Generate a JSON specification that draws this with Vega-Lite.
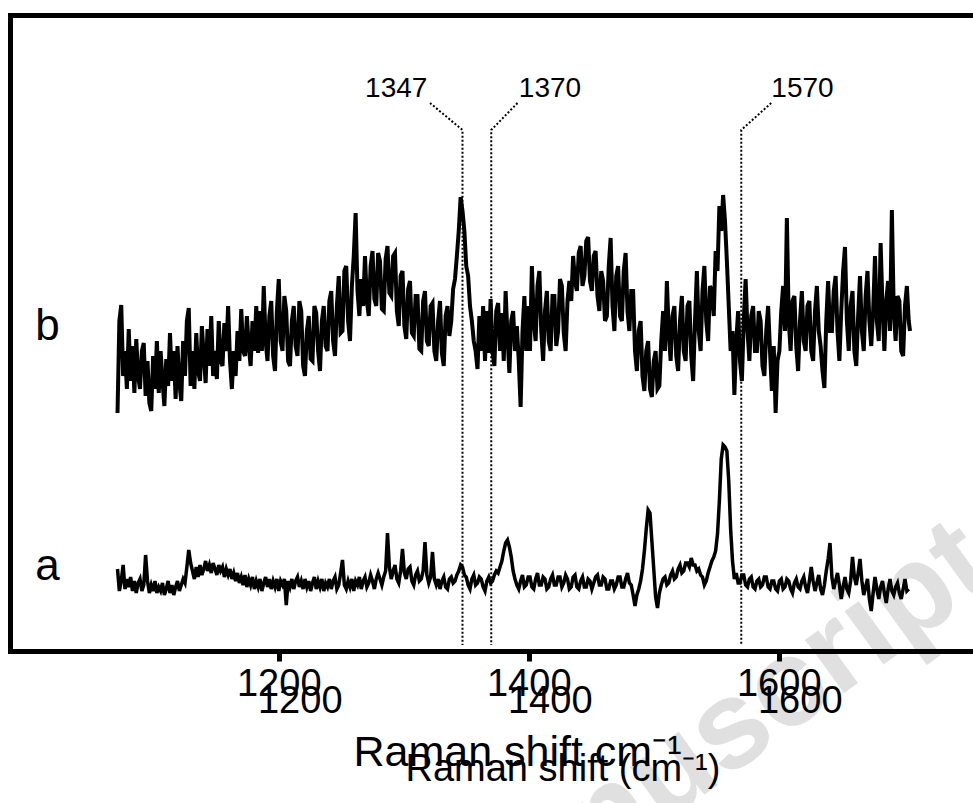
{
"$schema": "https://vega.github.io/schema/vega-lite/v6.json",
"width": 963, "height": 636,
"autosize": {"type": "none"},
"padding": {"left": 10, "top": 15, "right": 0, "bottom": 152},
"background": "white",
"config": {"view": {"stroke": null}, "font": "Liberation Sans", "axis": {"grid": false, "zindex": 1}},
"datasets": {
"b": [
{"x":1071,"y":238},{"x":1072.5,"y":330},{"x":1074,"y":346},{"x":1075.5,"y":275},{"x":1077,"y":300},{"x":1078.5,"y":262},{"x":1080,"y":322},{"x":1081.5,"y":270},{"x":1083,"y":305},{"x":1084.5,"y":258},{"x":1086,"y":312},{"x":1087.5,"y":275},{"x":1089,"y":262},{"x":1090.5,"y":300},{"x":1092,"y":308},{"x":1093.5,"y":255},{"x":1095,"y":290},{"x":1096.5,"y":248},{"x":1098,"y":240},{"x":1099.5,"y":295},{"x":1101,"y":262},{"x":1102.5,"y":310},{"x":1104,"y":258},{"x":1105.5,"y":300},{"x":1107,"y":270},{"x":1108.5,"y":245},{"x":1110,"y":292},{"x":1111.5,"y":265},{"x":1113,"y":318},{"x":1114.5,"y":270},{"x":1116,"y":300},{"x":1117.5,"y":252},{"x":1119,"y":305},{"x":1120.5,"y":268},{"x":1122,"y":250},{"x":1123.5,"y":310},{"x":1125,"y":275},{"x":1126.5,"y":330},{"x":1128,"y":343},{"x":1129.5,"y":265},
{"x":1131,"y":300},{"x":1132.5,"y":262},{"x":1134,"y":318},{"x":1135.5,"y":280},{"x":1137,"y":270},{"x":1138.5,"y":325},{"x":1140,"y":295},{"x":1141.5,"y":268},{"x":1143,"y":322},{"x":1144.5,"y":285},{"x":1146,"y":335},{"x":1147.5,"y":275},{"x":1149,"y":300},{"x":1150.5,"y":272},{"x":1152,"y":330},{"x":1153.5,"y":290},{"x":1155,"y":285},{"x":1156.5,"y":328},{"x":1158,"y":300},{"x":1159.5,"y":345},{"x":1161,"y":290},{"x":1162.5,"y":262},{"x":1164,"y":300},{"x":1165.5,"y":275},{"x":1167,"y":320},{"x":1168.5,"y":290},{"x":1170,"y":342},{"x":1171.5,"y":300},{"x":1173,"y":295},{"x":1174.5,"y":335},{"x":1176,"y":305},{"x":1177.5,"y":285},{"x":1179,"y":330},{"x":1180.5,"y":300},{"x":1182,"y":345},{"x":1183.5,"y":298},
{"x":1185,"y":340},{"x":1186.5,"y":300},{"x":1188,"y":365},{"x":1189.5,"y":310},{"x":1191,"y":290},{"x":1192.5,"y":335},{"x":1194,"y":350},{"x":1195.5,"y":295},{"x":1197,"y":280},{"x":1198.5,"y":340},{"x":1200,"y":372},{"x":1201.5,"y":310},{"x":1203,"y":300},{"x":1204.5,"y":355},{"x":1206,"y":340},{"x":1207.5,"y":290},{"x":1209,"y":285},{"x":1210.5,"y":330},{"x":1212,"y":345},{"x":1213.5,"y":305},{"x":1215,"y":295},{"x":1216.5,"y":350},{"x":1218,"y":340},{"x":1219.5,"y":285},{"x":1221,"y":275},{"x":1222.5,"y":320},{"x":1224,"y":335},{"x":1225.5,"y":292},{"x":1227,"y":290},{"x":1228.5,"y":345},{"x":1230,"y":338},{"x":1231.5,"y":300},{"x":1233,"y":280},{"x":1234.5,"y":330},{"x":1236,"y":345},{"x":1237.5,"y":305},
{"x":1239,"y":300},{"x":1240.5,"y":350},{"x":1242,"y":360},{"x":1243.5,"y":310},{"x":1245,"y":295},{"x":1246.5,"y":345},{"x":1248,"y":375},{"x":1249.5,"y":318},{"x":1251,"y":320},{"x":1252.5,"y":380},{"x":1254,"y":385},{"x":1255.5,"y":330},{"x":1257,"y":310},{"x":1258.5,"y":365},{"x":1260,"y":395},{"x":1261.5,"y":438},{"x":1263,"y":360},{"x":1264.5,"y":335},
{"x":1266,"y":372},{"x":1267.5,"y":345},{"x":1269,"y":395},{"x":1270.5,"y":350},{"x":1272,"y":335},{"x":1273.5,"y":385},{"x":1275,"y":400},{"x":1276.5,"y":352},{"x":1278,"y":345},{"x":1279.5,"y":398},{"x":1281,"y":390},{"x":1282.5,"y":342},{"x":1284,"y":340},{"x":1285.5,"y":392},{"x":1287,"y":405},{"x":1288.5,"y":358},{"x":1290,"y":355},{"x":1291.5,"y":395},{"x":1293,"y":398},{"x":1294.5,"y":340},
{"x":1296,"y":325},{"x":1297.5,"y":375},{"x":1299,"y":380},{"x":1300.5,"y":325},{"x":1302,"y":312},{"x":1303.5,"y":362},{"x":1305,"y":370},{"x":1306.5,"y":318},{"x":1308,"y":315},{"x":1309.5,"y":355},{"x":1311,"y":355},{"x":1312.5,"y":302},{"x":1314,"y":300},{"x":1315.5,"y":350},{"x":1317,"y":360},{"x":1318.5,"y":310},{"x":1320,"y":305},{"x":1321.5,"y":345},{"x":1323,"y":348},{"x":1324.5,"y":300},{"x":1326,"y":290},{"x":1327.5,"y":330},{"x":1329,"y":350},{"x":1330.5,"y":298},{"x":1332,"y":285},{"x":1333.5,"y":335},{"x":1335,"y":345},{"x":1336.5,"y":315},
{"x":1338,"y":330},{"x":1339.5,"y":362},{"x":1341,"y":372},{"x":1342.5,"y":395},{"x":1344,"y":420},{"x":1345.5,"y":454},{"x":1347,"y":440},{"x":1348.5,"y":420},{"x":1350,"y":385},{"x":1351.5,"y":375},{"x":1353,"y":345},{"x":1354.5,"y":330},{"x":1356,"y":310},{"x":1357.5,"y":300},{"x":1359,"y":282},
{"x":1360.5,"y":335},{"x":1362,"y":300},{"x":1363.5,"y":345},{"x":1365,"y":290},{"x":1366.5,"y":340},{"x":1368,"y":298},{"x":1369.5,"y":352},{"x":1371,"y":300},{"x":1372.5,"y":285},{"x":1374,"y":340},{"x":1375.5,"y":348},{"x":1377,"y":300},{"x":1378.5,"y":338},{"x":1380,"y":290},{"x":1381.5,"y":360},{"x":1383,"y":315},{"x":1384.5,"y":278},{"x":1386,"y":330},{"x":1387.5,"y":340},{"x":1389,"y":300},{"x":1390.5,"y":325},{"x":1392,"y":290},
{"x":1393.5,"y":244},{"x":1395,"y":320},{"x":1396.5,"y":355},{"x":1398,"y":300},{"x":1399.5,"y":345},{"x":1401,"y":300},{"x":1402.5,"y":385},{"x":1404,"y":330},{"x":1405.5,"y":310},{"x":1407,"y":365},{"x":1408.5,"y":380},{"x":1410,"y":320},{"x":1411.5,"y":290},{"x":1413,"y":340},{"x":1414.5,"y":360},{"x":1416,"y":310},{"x":1417.5,"y":300},{"x":1419,"y":355},{"x":1420.5,"y":355},{"x":1422,"y":305},{"x":1423.5,"y":320},{"x":1425,"y":372},{"x":1426.5,"y":365},{"x":1428,"y":318},{"x":1429.5,"y":300},{"x":1431,"y":350},
{"x":1432.5,"y":370},{"x":1434,"y":350},{"x":1435.5,"y":395},{"x":1437,"y":370},{"x":1438.5,"y":360},{"x":1440,"y":398},{"x":1441.5,"y":405},{"x":1443,"y":365},{"x":1444.5,"y":375},{"x":1446,"y":410},{"x":1447.5,"y":414},{"x":1449,"y":370},{"x":1450.5,"y":360},{"x":1452,"y":395},{"x":1453.5,"y":400},{"x":1455,"y":355},{"x":1456.5,"y":340},{"x":1458,"y":380},
{"x":1459.5,"y":370},{"x":1461,"y":330},{"x":1462.5,"y":335},{"x":1464,"y":385},{"x":1465.5,"y":413},{"x":1467,"y":345},{"x":1468.5,"y":320},{"x":1470,"y":375},{"x":1471.5,"y":385},{"x":1473,"y":335},{"x":1474.5,"y":330},{"x":1476,"y":380},{"x":1477.5,"y":398},{"x":1479,"y":340},{"x":1480.5,"y":320},{"x":1482,"y":360},
{"x":1483.5,"y":360},{"x":1485,"y":300},{"x":1486.5,"y":280},{"x":1488,"y":320},{"x":1489.5,"y":330},{"x":1491,"y":275},{"x":1492.5,"y":260},{"x":1494,"y":300},{"x":1495.5,"y":310},{"x":1497,"y":262},{"x":1498.5,"y":254},{"x":1500,"y":290},{"x":1501.5,"y":300},{"x":1503,"y":262},{"x":1504.5,"y":265},{"x":1506,"y":310},{"x":1507.5,"y":340},{"x":1509,"y":300},{"x":1510.5,"y":370},{"x":1512,"y":320},{"x":1513.5,"y":290},{"x":1515,"y":335},
{"x":1516.5,"y":345},{"x":1518,"y":295},{"x":1519.5,"y":280},{"x":1521,"y":330},{"x":1522.5,"y":355},{"x":1524,"y":300},{"x":1525.5,"y":290},{"x":1527,"y":345},{"x":1528.5,"y":350},{"x":1530,"y":295},{"x":1531.5,"y":270},{"x":1533,"y":330},{"x":1534.5,"y":380},{"x":1536,"y":320},{"x":1537.5,"y":300},{"x":1539,"y":360},{"x":1540.5,"y":385},{"x":1542,"y":330},{"x":1543.5,"y":310},{"x":1545,"y":365},{"x":1546.5,"y":360},{"x":1548,"y":335},{"x":1549.5,"y":400},
{"x":1551,"y":380},{"x":1552.5,"y":445},{"x":1554,"y":420},{"x":1555.5,"y":456},{"x":1557,"y":430},{"x":1558.5,"y":390},{"x":1560,"y":345},{"x":1561.5,"y":300},{"x":1563,"y":320},
{"x":1564.5,"y":256},{"x":1566,"y":310},{"x":1567.5,"y":340},{"x":1569,"y":290},{"x":1570.5,"y":270},{"x":1572,"y":330},{"x":1573.5,"y":372},{"x":1575,"y":320},{"x":1576.5,"y":290},{"x":1578,"y":335},{"x":1579.5,"y":345},{"x":1581,"y":300},{"x":1582.5,"y":300},{"x":1584,"y":340},{"x":1585.5,"y":330},{"x":1587,"y":285},{"x":1588.5,"y":275},{"x":1590,"y":320},{"x":1591.5,"y":345},{"x":1593,"y":300},{"x":1594.5,"y":260},{"x":1596,"y":305},{"x":1597.5,"y":238},{"x":1599,"y":290},{"x":1600.5,"y":300},{"x":1602,"y":340},
{"x":1603.5,"y":365},{"x":1605,"y":320},{"x":1606.5,"y":433},{"x":1608,"y":330},{"x":1609.5,"y":300},{"x":1611,"y":350},{"x":1612.5,"y":355},{"x":1614,"y":305},{"x":1615.5,"y":280},{"x":1617,"y":330},{"x":1618.5,"y":360},{"x":1620,"y":310},{"x":1621.5,"y":300},{"x":1623,"y":345},{"x":1624.5,"y":350},{"x":1626,"y":300},{"x":1627.5,"y":290},{"x":1629,"y":340},{"x":1630.5,"y":365},{"x":1632,"y":320},{"x":1633.5,"y":305},{"x":1635,"y":280},{"x":1636.5,"y":263},{"x":1638,"y":330},{"x":1639.5,"y":370},{"x":1641,"y":320},{"x":1642.5,"y":320},{"x":1644,"y":360},{"x":1645.5,"y":375},{"x":1647,"y":320},{"x":1648.5,"y":290},{"x":1650,"y":340},{"x":1651.5,"y":380},{"x":1653,"y":404},{"x":1654.5,"y":330},{"x":1656,"y":300},{"x":1657.5,"y":345},{"x":1659,"y":360},{"x":1660.5,"y":300},{"x":1662,"y":285},{"x":1663.5,"y":335},{"x":1665,"y":375},{"x":1666.5,"y":320},{"x":1668,"y":300},{"x":1669.5,"y":355},{"x":1671,"y":380},{"x":1672.5,"y":330},{"x":1674,"y":305},{"x":1675.5,"y":340},{"x":1677,"y":395},{"x":1678.5,"y":330},{"x":1680,"y":310},{"x":1681.5,"y":408},{"x":1683,"y":345},{"x":1684.5,"y":300},{"x":1686,"y":350},{"x":1687.5,"y":370},{"x":1689,"y":320},{"x":1690.5,"y":441},{"x":1692,"y":340},{"x":1693.5,"y":310},{"x":1695,"y":355},{"x":1696.5,"y":350},{"x":1698,"y":300},{"x":1699.5,"y":295},{"x":1701,"y":345},{"x":1702.5,"y":365},{"x":1704,"y":330},{"x":1705,"y":320}
],
"a": [
{"x":1071,"y":82},{"x":1072.5,"y":60},{"x":1074,"y":70},{"x":1075.5,"y":86},{"x":1077,"y":62},{"x":1078.5,"y":72},{"x":1080,"y":64},{"x":1081.5,"y":74},{"x":1083,"y":60},{"x":1084.5,"y":70},{"x":1086,"y":58},{"x":1087.5,"y":68},{"x":1089,"y":72},{"x":1090.5,"y":60},{"x":1092,"y":66},{"x":1093.5,"y":96},{"x":1095,"y":70},{"x":1096.5,"y":58},{"x":1098,"y":66},{"x":1099.5,"y":60},{"x":1101,"y":70},{"x":1102.5,"y":58},{"x":1104,"y":64},{"x":1105.5,"y":60},{"x":1107,"y":68},{"x":1108.5,"y":56},{"x":1110,"y":62},{"x":1111.5,"y":70},{"x":1113,"y":58},{"x":1114.5,"y":66},{"x":1116,"y":56},{"x":1117.5,"y":64},{"x":1119,"y":70},{"x":1120.5,"y":60},{"x":1122,"y":66},{"x":1123.5,"y":72},{"x":1125,"y":68},{"x":1126.5,"y":84},{"x":1128,"y":101},{"x":1129.5,"y":88},
{"x":1131,"y":80},{"x":1132.5,"y":72},{"x":1134,"y":84},{"x":1135.5,"y":74},{"x":1137,"y":86},{"x":1138.5,"y":76},{"x":1140,"y":82},{"x":1141.5,"y":90},{"x":1143,"y":80},{"x":1144.5,"y":86},{"x":1146,"y":78},{"x":1147.5,"y":88},{"x":1149,"y":82},{"x":1150.5,"y":76},{"x":1152,"y":86},{"x":1153.5,"y":80},{"x":1155,"y":84},{"x":1156.5,"y":74},{"x":1158,"y":82},{"x":1159.5,"y":76},{"x":1161,"y":82},{"x":1162.5,"y":72},{"x":1164,"y":78},{"x":1165.5,"y":70},{"x":1167,"y":78},{"x":1168.5,"y":68},{"x":1170,"y":74},{"x":1171.5,"y":66},{"x":1173,"y":76},{"x":1174.5,"y":64},{"x":1176,"y":72},{"x":1177.5,"y":66},{"x":1179,"y":74},{"x":1180.5,"y":62},{"x":1182,"y":70},{"x":1183.5,"y":64},
{"x":1185,"y":72},{"x":1186.5,"y":60},{"x":1188,"y":68},{"x":1189.5,"y":74},{"x":1191,"y":64},{"x":1192.5,"y":72},{"x":1194,"y":62},{"x":1195.5,"y":70},{"x":1197,"y":64},{"x":1198.5,"y":72},{"x":1200,"y":60},{"x":1201.5,"y":70},{"x":1203,"y":66},{"x":1204.5,"y":72},{"x":1206,"y":46},{"x":1207.5,"y":70},{"x":1209,"y":64},{"x":1210.5,"y":72},{"x":1212,"y":62},{"x":1213.5,"y":70},{"x":1215,"y":74},{"x":1216.5,"y":64},{"x":1218,"y":70},{"x":1219.5,"y":62},{"x":1221,"y":72},{"x":1222.5,"y":64},{"x":1224,"y":70},{"x":1225.5,"y":60},{"x":1227,"y":68},{"x":1228.5,"y":74},{"x":1230,"y":62},{"x":1231.5,"y":70},{"x":1233,"y":64},{"x":1234.5,"y":72},{"x":1236,"y":60},{"x":1237.5,"y":68},
{"x":1239,"y":64},{"x":1240.5,"y":72},{"x":1242,"y":62},{"x":1243.5,"y":70},{"x":1245,"y":74},{"x":1246.5,"y":62},{"x":1248,"y":66},{"x":1249.5,"y":78},{"x":1251,"y":91},{"x":1252.5,"y":66},{"x":1254,"y":62},{"x":1255.5,"y":70},{"x":1257,"y":64},{"x":1258.5,"y":72},{"x":1260,"y":60},{"x":1261.5,"y":70},{"x":1263,"y":66},{"x":1264.5,"y":74},{"x":1266,"y":62},{"x":1267.5,"y":70},{"x":1269,"y":74},{"x":1270.5,"y":64},{"x":1272,"y":68},{"x":1273.5,"y":76},{"x":1275,"y":70},{"x":1276.5,"y":62},{"x":1278,"y":72},{"x":1279.5,"y":78},{"x":1281,"y":72},{"x":1282.5,"y":66},
{"x":1284,"y":74},{"x":1285.5,"y":80},{"x":1287,"y":118},{"x":1288.5,"y":84},{"x":1290,"y":72},{"x":1291.5,"y":80},{"x":1293,"y":86},{"x":1294.5,"y":72},{"x":1296,"y":68},{"x":1297.5,"y":80},{"x":1299,"y":102},{"x":1300.5,"y":78},{"x":1302,"y":72},{"x":1303.5,"y":82},{"x":1305,"y":84},{"x":1306.5,"y":70},{"x":1308,"y":66},{"x":1309.5,"y":76},{"x":1311,"y":80},{"x":1312.5,"y":70},{"x":1314,"y":72},{"x":1315.5,"y":80},{"x":1317,"y":109},{"x":1318.5,"y":76},{"x":1320,"y":68},{"x":1321.5,"y":74},{"x":1323,"y":99},{"x":1324.5,"y":72},
{"x":1326,"y":66},{"x":1327.5,"y":72},{"x":1329,"y":62},{"x":1330.5,"y":70},{"x":1332,"y":74},{"x":1333.5,"y":64},{"x":1335,"y":62},{"x":1336.5,"y":72},{"x":1338,"y":74},{"x":1339.5,"y":68},{"x":1341,"y":70},{"x":1342.5,"y":76},{"x":1344,"y":80},{"x":1345.5,"y":86},{"x":1347,"y":84},{"x":1348.5,"y":76},{"x":1350,"y":74},{"x":1351.5,"y":66},{"x":1353,"y":62},{"x":1354.5,"y":72},{"x":1356,"y":76},{"x":1357.5,"y":66},{"x":1359,"y":68},{"x":1360.5,"y":74},{"x":1362,"y":72},{"x":1363.5,"y":64},{"x":1365,"y":60},{"x":1366.5,"y":70},{"x":1368,"y":74},{"x":1369.5,"y":68},{"x":1371,"y":70},
{"x":1372.5,"y":76},{"x":1374,"y":80},{"x":1375.5,"y":78},{"x":1377,"y":84},{"x":1378.5,"y":90},{"x":1380,"y":100},{"x":1381.5,"y":108},{"x":1383,"y":111},{"x":1384.5,"y":104},{"x":1386,"y":94},{"x":1387.5,"y":80},{"x":1389,"y":72},{"x":1390.5,"y":66},{"x":1392,"y":62},
{"x":1393.5,"y":70},{"x":1395,"y":76},{"x":1396.5,"y":64},{"x":1398,"y":66},{"x":1399.5,"y":74},{"x":1401,"y":74},{"x":1402.5,"y":64},{"x":1404,"y":62},{"x":1405.5,"y":72},{"x":1407,"y":78},{"x":1408.5,"y":66},{"x":1410,"y":66},{"x":1411.5,"y":74},{"x":1413,"y":72},{"x":1414.5,"y":62},{"x":1416,"y":64},{"x":1417.5,"y":72},{"x":1419,"y":76},{"x":1420.5,"y":66},{"x":1422,"y":66},{"x":1423.5,"y":74},{"x":1425,"y":74},{"x":1426.5,"y":64},{"x":1428,"y":68},{"x":1429.5,"y":76},{"x":1431,"y":72},{"x":1432.5,"y":62},{"x":1434,"y":64},{"x":1435.5,"y":74},{"x":1437,"y":76},{"x":1438.5,"y":64},{"x":1440,"y":62},{"x":1441.5,"y":70},{"x":1443,"y":74},{"x":1444.5,"y":64},{"x":1446,"y":64},{"x":1447.5,"y":72},{"x":1449,"y":70},{"x":1450.5,"y":62},{"x":1452,"y":68},{"x":1453.5,"y":74},{"x":1455,"y":76},{"x":1456.5,"y":66},{"x":1458,"y":66},{"x":1459.5,"y":74},{"x":1461,"y":72},{"x":1462.5,"y":62},{"x":1464,"y":62},{"x":1465.5,"y":70},{"x":1467,"y":70},{"x":1468.5,"y":62},{"x":1470,"y":66},{"x":1471.5,"y":74},{"x":1473,"y":74},{"x":1474.5,"y":64},{"x":1476,"y":64},{"x":1477.5,"y":72},{"x":1479,"y":78},{"x":1480.5,"y":68},{"x":1482,"y":66},
{"x":1483.5,"y":56},{"x":1485,"y":45},{"x":1486.5,"y":56},{"x":1488,"y":62},{"x":1489.5,"y":70},{"x":1491,"y":82},{"x":1492.5,"y":100},{"x":1494,"y":122},{"x":1495.5,"y":141},{"x":1497,"y":138},{"x":1498.5,"y":110},{"x":1500,"y":82},{"x":1501.5,"y":54},{"x":1503,"y":43},{"x":1504.5,"y":58},
{"x":1506,"y":66},{"x":1507.5,"y":72},{"x":1509,"y":74},{"x":1510.5,"y":66},{"x":1512,"y":68},{"x":1513.5,"y":76},{"x":1515,"y":80},{"x":1516.5,"y":72},{"x":1518,"y":74},{"x":1519.5,"y":82},{"x":1521,"y":86},{"x":1522.5,"y":78},{"x":1524,"y":80},{"x":1525.5,"y":88},{"x":1527,"y":88},{"x":1528.5,"y":84},{"x":1530,"y":93},{"x":1531.5,"y":86},{"x":1533,"y":86},{"x":1534.5,"y":80},{"x":1536,"y":82},{"x":1537.5,"y":76},{"x":1539,"y":74},{"x":1540.5,"y":66},{"x":1542,"y":70},{"x":1543.5,"y":78},{"x":1545,"y":84},{"x":1546.5,"y":90},{"x":1548,"y":94},{"x":1549.5,"y":100},
{"x":1551,"y":117},{"x":1552.5,"y":150},{"x":1554,"y":192},{"x":1555.5,"y":206},{"x":1557,"y":204},{"x":1558.5,"y":200},{"x":1560,"y":170},{"x":1561.5,"y":122},{"x":1563,"y":90},{"x":1564.5,"y":72},
{"x":1566,"y":78},{"x":1567.5,"y":68},{"x":1569,"y":68},{"x":1570.5,"y":76},{"x":1572,"y":76},{"x":1573.5,"y":66},{"x":1575,"y":64},{"x":1576.5,"y":72},{"x":1578,"y":74},{"x":1579.5,"y":64},{"x":1581,"y":62},{"x":1582.5,"y":70},{"x":1584,"y":72},{"x":1585.5,"y":64},{"x":1587,"y":66},{"x":1588.5,"y":74},{"x":1590,"y":74},{"x":1591.5,"y":64},{"x":1593,"y":62},{"x":1594.5,"y":70},{"x":1596,"y":70},{"x":1597.5,"y":62},{"x":1599,"y":60},{"x":1600.5,"y":70},{"x":1602,"y":72},{"x":1603.5,"y":62},{"x":1605,"y":64},{"x":1606.5,"y":72},{"x":1608,"y":70},{"x":1609.5,"y":62},{"x":1611,"y":58},{"x":1612.5,"y":68},{"x":1614,"y":72},{"x":1615.5,"y":64},{"x":1617,"y":62},{"x":1618.5,"y":70},{"x":1620,"y":74},{"x":1621.5,"y":64},{"x":1623,"y":58},{"x":1624.5,"y":70},{"x":1626,"y":84},{"x":1627.5,"y":70},{"x":1629,"y":60},{"x":1630.5,"y":68},
{"x":1632,"y":76},{"x":1633.5,"y":62},{"x":1635,"y":56},{"x":1636.5,"y":66},{"x":1638,"y":80},{"x":1639.5,"y":92},{"x":1641,"y":108},{"x":1642.5,"y":74},{"x":1644,"y":62},{"x":1645.5,"y":70},{"x":1647,"y":78},{"x":1648.5,"y":66},{"x":1650,"y":52},{"x":1651.5,"y":64},{"x":1653,"y":74},{"x":1654.5,"y":62},{"x":1656,"y":58},{"x":1657.5,"y":70},{"x":1659,"y":94},{"x":1660.5,"y":74},{"x":1662,"y":66},{"x":1663.5,"y":78},{"x":1665,"y":92},{"x":1666.5,"y":70},{"x":1668,"y":56},{"x":1669.5,"y":64},{"x":1671,"y":72},{"x":1672.5,"y":52},{"x":1674,"y":40},{"x":1675.5,"y":58},{"x":1677,"y":74},{"x":1678.5,"y":62},{"x":1680,"y":52},{"x":1681.5,"y":64},{"x":1683,"y":70},{"x":1684.5,"y":58},{"x":1686,"y":48},{"x":1687.5,"y":62},{"x":1689,"y":72},{"x":1690.5,"y":60},{"x":1692,"y":56},{"x":1693.5,"y":64},{"x":1695,"y":68},{"x":1696.5,"y":58},{"x":1698,"y":52},{"x":1699.5,"y":62},{"x":1701,"y":72},{"x":1702.5,"y":60},{"x":1704,"y":62}
],
"guides": [
{"peak":"1347","o":0,"x":1321,"y":548},{"peak":"1347","o":1,"x":1347,"y":521},{"peak":"1347","o":2,"x":1347,"y":6},
{"peak":"1370","o":0,"x":1391,"y":548},{"peak":"1370","o":1,"x":1370,"y":521},{"peak":"1370","o":2,"x":1370,"y":6},
{"peak":"1570","o":0,"x":1594,"y":548},{"peak":"1570","o":1,"x":1570,"y":521},{"peak":"1570","o":2,"x":1570,"y":6}
],
"peaklabels": [
{"t":"1347","x":1294,"y":554},{"t":"1370","x":1417,"y":554},{"t":"1570","x":1619,"y":554}
],
"curvelabels": [
{"t":"b","x":1015,"y":311},{"t":"a","x":1015,"y":71}
],
"mark": [
{"t":"Accepted Manuscript","x":1777,"y":71}
]
},
"resolve": {"axis": {"x": "independent", "y": "independent"}},
"layer": [
{
"data": {"name": "mark"},
"mark": {"type": "text", "align": "right", "baseline": "alphabetic", "angle": -36, "fontSize": 125, "fontWeight": "bold", "color": "#e0e0e0", "font": "Liberation Sans"},
"encoding": {
"x": {"field": "x", "type": "quantitative", "scale": {"domain": [985, 1755.4], "nice": false, "zero": false}, "axis": null},
"y": {"field": "y", "type": "quantitative", "scale": {"domain": [0, 636], "nice": false, "zero": false}, "axis": null},
"text": {"field": "t"}
}
},
{
"data": {"name": "b"},
"mark": {"type": "line", "color": "black", "strokeWidth": 4},
"encoding": {
"x": {"field": "x", "type": "quantitative", "scale": {"domain": [985, 1755.4], "nice": false, "zero": false},
"axis": {"zindex": 1, "values": [1200, 1400, 1600], "format": "d", "domainColor": "black", "domainWidth": 5, "domainCap": "square", "tickColor": "black", "tickWidth": 5, "tickSize": 10, "labelFontSize": 38, "labelColor": "black", "labelFont": "Liberation Sans", "labelPadding": 4, "labelBaseline": "top",
"title": "Raman shift cm⁻¹", "titleFont": "Liberation Sans", "titleFontSize": 43, "titleFontWeight": "normal", "titleColor": "black", "titleX": 343, "titleY": 114, "titleAlign": "left", "titleAnchor": "start", "titleBaseline": "alphabetic"}},
"y": {"field": "y", "type": "quantitative", "scale": {"domain": [0, 636], "nice": false, "zero": false},
"axis": {"zindex": 1, "domainColor": "black", "domainWidth": 5, "domainCap": "square", "ticks": false, "labels": false, "title": null}}
}
},
{
"data": {"name": "a"},
"mark": {"type": "line", "color": "black", "strokeWidth": 3.5},
"encoding": {
"x": {"field": "x", "type": "quantitative", "scale": {"domain": [985, 1755.4], "nice": false, "zero": false}, "axis": null},
"y": {"field": "y", "type": "quantitative", "scale": {"domain": [0, 636], "nice": false, "zero": false}, "axis": null}
}
},
{
"data": {"name": "guides"},
"mark": {"type": "line", "color": "black", "strokeWidth": 2, "strokeDash": [2, 2], "interpolate": "linear"},
"encoding": {
"x": {"field": "x", "type": "quantitative", "scale": {"domain": [985, 1755.4], "nice": false, "zero": false}, "axis": null},
"y": {"field": "y", "type": "quantitative", "scale": {"domain": [0, 636], "nice": false, "zero": false}, "axis": null},
"detail": {"field": "peak"},
"order": {"field": "o", "type": "quantitative"}
}
},
{
"data": {"name": "peaklabels"},
"mark": {"type": "text", "align": "center", "baseline": "alphabetic", "fontSize": 28, "color": "black", "font": "Liberation Sans"},
"encoding": {
"x": {"field": "x", "type": "quantitative", "scale": {"domain": [985, 1755.4], "nice": false, "zero": false},
"axis": {"zindex": 1, "orient": "top", "domainColor": "black", "domainWidth": 5, "domainCap": "square", "ticks": false, "labels": false, "title": null}},
"y": {"field": "y", "type": "quantitative", "scale": {"domain": [0, 636], "nice": false, "zero": false}, "axis": null},
"text": {"field": "t"}
}
},
{
"data": {"name": "curvelabels"},
"mark": {"type": "text", "align": "center", "baseline": "alphabetic", "fontSize": 44, "color": "black", "font": "Liberation Sans"},
"encoding": {
"x": {"field": "x", "type": "quantitative", "scale": {"domain": [985, 1755.4], "nice": false, "zero": false},
"axis": {"zindex": 1, "values": [1200, 1400, 1600], "format": "d", "domain": false, "ticks": false, "tickSize": 0, "labelFontSize": 38, "labelColor": "black", "labelFont": "Liberation Sans", "labelPadding": 31, "labelOffset": 21, "labelBaseline": "top",
"title": "Raman shift (cm⁻¹)", "titleFont": "Liberation Sans", "titleFontSize": 38, "titleFontWeight": "normal", "titleColor": "black", "titleX": 395, "titleY": 129, "titleAlign": "left", "titleAnchor": "start", "titleBaseline": "alphabetic"}},
"y": {"field": "y", "type": "quantitative", "scale": {"domain": [0, 636], "nice": false, "zero": false}, "axis": null},
"text": {"field": "t"}
}
}
]
}
